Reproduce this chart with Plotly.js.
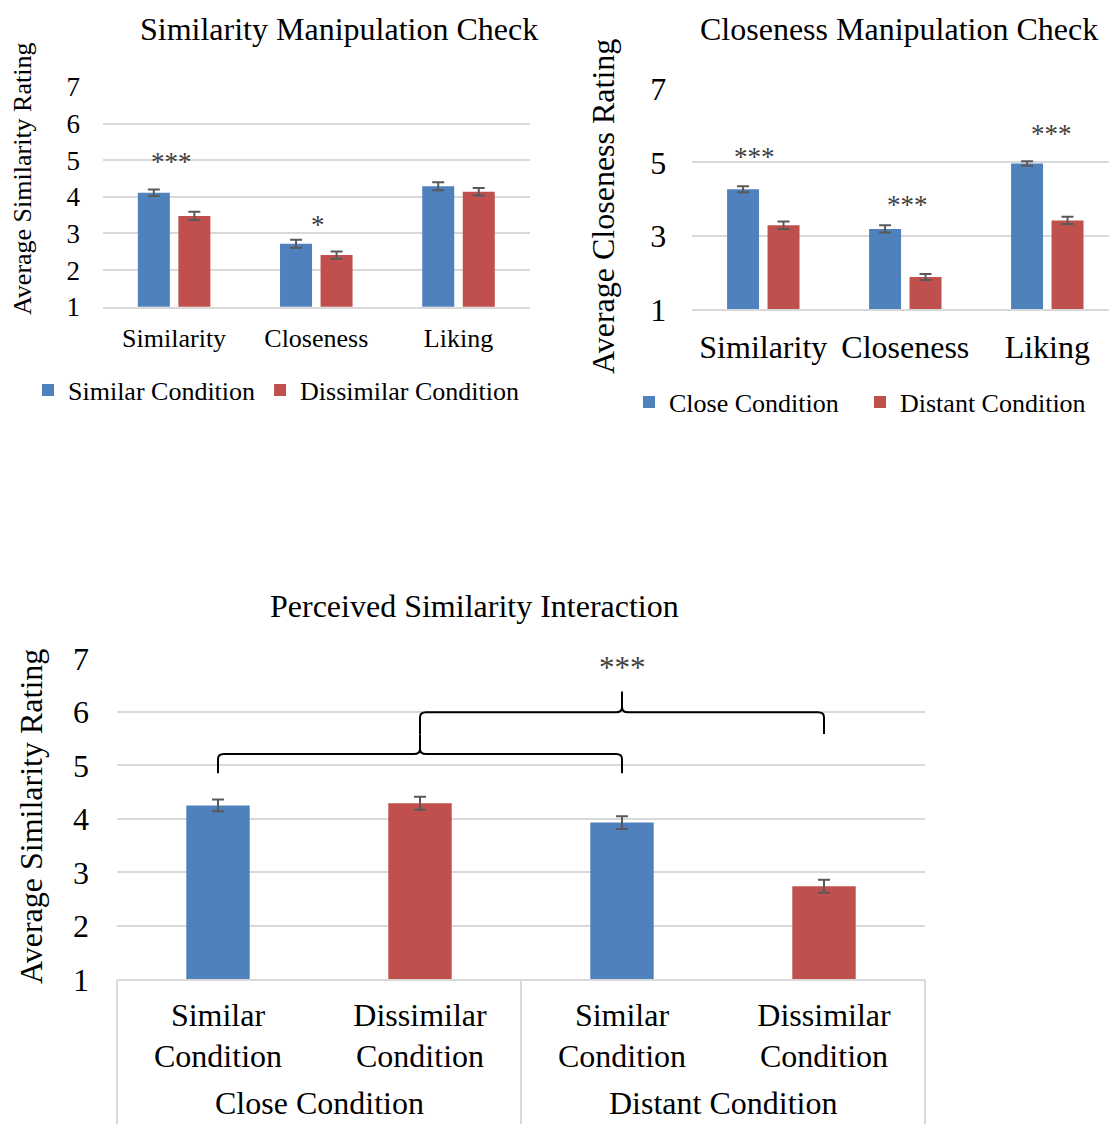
<!DOCTYPE html>
<html>
<head>
<meta charset="utf-8">
<script src="https://cdn.plot.ly/plotly-3.0.1.min.js"></script>
<style>
  html, body { margin: 0; padding: 0; background: #fff; }
  #chart { width: 1109px; height: 1124px; }
</style>
</head>
<body>
<div id="chart"></div>
<script>
// ---- Similarity manipulation check ----
const simCategories = ['Similarity', 'Closeness', 'Liking'];
const simSimilar = [4.11, 2.72, 4.29];
const simSimilarErr = [0.09, 0.11, 0.11];
const simDissimilar = [3.48, 2.41, 4.14];
const simDissimilarErr = [0.11, 0.10, 0.10];
const simStars = ['***', '*', ''];

// ---- Closeness manipulation check ----
const closeCategories = ['Similarity', 'Closeness', 'Liking'];
const closeClose = [4.27, 3.19, 4.97];
const closeCloseErr = [0.08, 0.10, 0.06];
const closeDistant = [3.29, 1.88, 3.42];
const closeDistantErr = [0.10, 0.08, 0.10];
const closeStars = ['***', '***', '***'];

// ---- Perceived similarity interaction ----
const interGroupNames = ['Close Condition', 'Distant Condition'];
const interGroups = ['Close Condition', 'Close Condition', 'Distant Condition', 'Distant Condition'];
const interConditions = ['Similar<br>Condition', 'Dissimilar<br>Condition', 'Similar<br>Condition', 'Dissimilar<br>Condition'];
const interValues = [4.25, 4.29, 3.93, 2.74];
const interErr = [0.11, 0.12, 0.12, 0.12];
const interStars = '***';

// ---- styling ----
const BLUE = '#4F81BD';
const RED = '#C0504D';
const GRID = '#D9D9D9';
const ERR = '#595959';
const FONT = 'Liberation Serif, Times New Roman, serif';

const W = 1109, H = 1124;
const px = v => v / W;          // pixel column -> paper x
const py = v => 1 - v / H;      // pixel row -> paper y

function errBar(arr) {
  return { type: 'data', array: arr, visible: true, color: ERR, thickness: 2, width: 6 };
}

// unique keys for the four bars of the interaction chart (group + condition)
const interKeys = interGroups.map((g, i) => g + ' / ' + interConditions[i].replace('<br>', ' '));

const traces = [
  { type: 'bar', x: simCategories, y: simSimilar, name: 'Similar Condition',
    marker: { color: BLUE }, error_y: errBar(simSimilarErr),
    xaxis: 'x', yaxis: 'y', legend: 'legend' },
  { type: 'bar', x: simCategories, y: simDissimilar, name: 'Dissimilar Condition',
    marker: { color: RED }, error_y: errBar(simDissimilarErr),
    xaxis: 'x', yaxis: 'y', legend: 'legend' },
  { type: 'bar', x: closeCategories, y: closeClose, name: 'Close Condition',
    marker: { color: BLUE }, error_y: errBar(closeCloseErr),
    xaxis: 'x2', yaxis: 'y2', legend: 'legend2' },
  { type: 'bar', x: closeCategories, y: closeDistant, name: 'Distant Condition',
    marker: { color: RED }, error_y: errBar(closeDistantErr),
    xaxis: 'x2', yaxis: 'y2', legend: 'legend2' },
  { type: 'bar', x: interKeys, y: interValues,
    marker: { color: interConditions.map(c => c.startsWith('Similar') ? BLUE : RED) },
    width: 0.314, error_y: errBar(interErr),
    xaxis: 'x3', yaxis: 'y3', showlegend: false }
];

const yCommon = {
  range: [1, 7], tick0: 1, showgrid: true, gridcolor: GRID, gridwidth: 2,
  zeroline: false, showline: false, ticks: '', fixedrange: true
};
const xCommon = {
  showgrid: false, zeroline: false, ticks: '', showline: true,
  linecolor: GRID, linewidth: 2, fixedrange: true
};

// interaction chart geometry
const x3Dom = [px(117), px(925)];
const catX = i => x3Dom[0] + (i + 0.5) / interValues.length * (x3Dom[1] - x3Dom[0]);
const unitPx = 53.5;

// curly brace spanning two bar centres
function brace(i0, i1, yEnd, yBar, yPeak) {
  const xl = catX(i0), xr = catX(i1), xm = (xl + xr) / 2;
  const rx = 6 / W, ry = 5 / unitPx;
  return 'M' + xl + ',' + yEnd + ' L' + xl + ',' + (yBar - ry) +
    ' Q' + xl + ',' + yBar + ' ' + (xl + rx) + ',' + yBar +
    ' L' + (xm - rx) + ',' + yBar +
    ' Q' + xm + ',' + yBar + ' ' + xm + ',' + (yBar + ry) +
    ' L' + xm + ',' + yPeak +
    ' M' + xm + ',' + (yBar + ry) +
    ' Q' + xm + ',' + yBar + ' ' + (xm + rx) + ',' + yBar +
    ' L' + (xr - rx) + ',' + yBar +
    ' Q' + xr + ',' + yBar + ' ' + xr + ',' + (yBar - ry) +
    ' L' + xr + ',' + yEnd;
}
const braceLine = { color: '#000', width: 2 };

// vertical dividers framing the two condition groups below the axis
const dividerXs = [0, interValues.length / 2, interValues.length].map(
  k => x3Dom[0] + k / interValues.length * (x3Dom[1] - x3Dom[0]));
const dividerShapes = dividerXs.map(x => ({
  type: 'line', xref: 'paper', yref: 'paper', x0: x, x1: x, y0: py(980), y1: 0,
  line: { color: GRID, width: 2 }
}));

const titleFont = { family: FONT, size: 32, color: '#000' };
const starFont = { family: FONT, size: 27, color: '#404040' };

const groupLabels = interGroupNames.map(g => {
  const idx = interGroups.map((n, i) => n === g ? i : -1).filter(i => i >= 0);
  const mid = (catX(idx[0]) + catX(idx[idx.length - 1])) / 2;
  return { text: g, xref: 'paper', yref: 'paper', x: mid, y: py(1103),
    xanchor: 'center', yanchor: 'middle', showarrow: false, font: titleFont };
});

const annotations = [
  // chart titles
  { text: 'Similarity Manipulation Check', xref: 'paper', yref: 'paper', x: px(339), y: py(29),
    xanchor: 'center', yanchor: 'middle', showarrow: false, font: titleFont },
  { text: 'Closeness Manipulation Check', xref: 'paper', yref: 'paper', x: px(898.5), y: py(29),
    xanchor: 'center', yanchor: 'middle', showarrow: false, font: titleFont },
  { text: 'Perceived Similarity Interaction', xref: 'paper', yref: 'paper', x: px(474.5), y: py(606),
    xanchor: 'center', yanchor: 'middle', showarrow: false, font: titleFont },
  // value-axis titles
  { text: 'Average Similarity Rating', textangle: -90, xref: 'paper', yref: 'paper', x: px(22), y: py(179),
    xanchor: 'center', yanchor: 'middle', showarrow: false, font: { family: FONT, size: 26, color: '#000' } },
  { text: 'Average Closeness Rating', textangle: -90, xref: 'paper', yref: 'paper', x: px(603), y: py(207),
    xanchor: 'center', yanchor: 'middle', showarrow: false, font: titleFont },
  { text: 'Average Similarity Rating', textangle: -90, xref: 'paper', yref: 'paper', x: px(31), y: py(817),
    xanchor: 'center', yanchor: 'middle', showarrow: false, font: titleFont },
  // significance markers
  { text: simStars[0], xref: 'x', yref: 'y', x: 0, y: 5.07, xshift: -3, yshift: -4, showarrow: false, font: starFont },
  { text: simStars[1], xref: 'x', yref: 'y', x: 1, y: 3.34, xshift: 2, yshift: -4, showarrow: false, font: starFont },
  { text: closeStars[0], xref: 'x2', yref: 'y2', x: 0, y: 5.22, xshift: -9, yshift: -3, showarrow: false, font: starFont },
  { text: closeStars[1], xref: 'x2', yref: 'y2', x: 1, y: 3.95, xshift: 2, yshift: -4, showarrow: false, font: starFont },
  { text: closeStars[2], xref: 'x2', yref: 'y2', x: 2, y: 5.86, xshift: 4, yshift: -3, showarrow: false, font: starFont },
  { text: interStars, xref: 'paper', yref: 'y3', x: catX(2), y: 6.92, yshift: -5, showarrow: false,
    font: { family: FONT, size: 31, color: '#404040' } }
].concat(groupLabels);

const layout = {
  width: W, height: H,
  margin: { l: 0, r: 0, t: 0, b: 0 },
  paper_bgcolor: '#fff', plot_bgcolor: '#fff',
  font: { family: FONT, color: '#000' },
  barmode: 'group', bargap: 0.43, bargroupgap: 0.21,
  xaxis: Object.assign({}, xCommon, { domain: [px(103), px(529.6)], anchor: 'y', type: 'category',
    tickfont: { size: 26 }, ticklabelstandoff: 7 }),
  yaxis: Object.assign({}, yCommon, { domain: [py(306.7), py(87)], anchor: 'x', dtick: 1,
    tickfont: { size: 27 }, ticklabelstandoff: 22 }),
  xaxis2: Object.assign({}, xCommon, { domain: [px(692.3), 1], anchor: 'y2', type: 'category',
    range: [-0.5, -0.5 + (W - 692.3) / 142], tickfont: { size: 32 }, ticklabelstandoff: 8 }),
  yaxis2: Object.assign({}, yCommon, { domain: [py(309.3), py(89)], anchor: 'x2', dtick: 2,
    tickfont: { size: 32 }, ticklabelstandoff: 25 }),
  xaxis3: Object.assign({}, xCommon, { domain: x3Dom, anchor: 'y3', type: 'category',
    tickmode: 'array', tickvals: interKeys, ticktext: interConditions,
    tickfont: { size: 32 }, ticklabelstandoff: 6 }),
  yaxis3: Object.assign({}, yCommon, { domain: [py(979.3), py(658.3)], anchor: 'x3', dtick: 1,
    tickfont: { size: 32 }, ticklabelstandoff: 27 }),
  legend: { orientation: 'h', x: px(28), xanchor: 'left', y: py(390), yanchor: 'middle',
    font: { family: FONT, size: 26 }, bgcolor: 'rgba(0,0,0,0)', traceorder: 'normal' },
  legend2: { orientation: 'h', x: px(629), xanchor: 'left', y: py(402), yanchor: 'middle',
    font: { family: FONT, size: 26 }, bgcolor: 'rgba(0,0,0,0)', traceorder: 'normal',
    entrywidth: 186 },
  shapes: [
    { type: 'path', xref: 'paper', yref: 'y3', path: brace(0, 2, 4.85, 5.21, 5.58),
      line: braceLine, fillcolor: 'rgba(0,0,0,0)' },
    { type: 'path', xref: 'paper', yref: 'y3', path: brace(1, 3, 5.585, 5.99, 6.38),
      line: braceLine, fillcolor: 'rgba(0,0,0,0)' }
  ].concat(dividerShapes),
  annotations: annotations
};

Plotly.newPlot('chart', traces, layout, { staticPlot: true, displayModeBar: false });
</script>
</body>
</html>
